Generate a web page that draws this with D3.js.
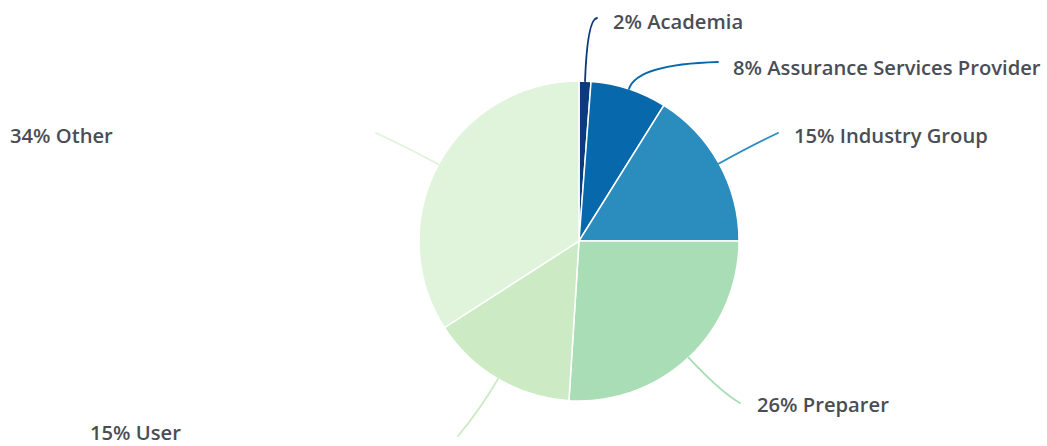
<!DOCTYPE html>
<html>
<head>
<meta charset="utf-8">
<script src="https://cdn.jsdelivr.net/npm/d3@7/dist/d3.min.js"></script>
<style>
  html, body { margin: 0; padding: 0; background: #fff; }
  svg { display: block; }
  text { font-family: "Open Sans", "Noto Sans", sans-serif; font-weight: 600; fill: #4a4d55; }
</style>
</head>
<body>
<svg id="chart" width="1047" height="446"></svg>
<script>
// ---- data ----
const categories = ["Academia", "Assurance Services Provider", "Industry Group", "Preparer", "User", "Other"];
const values = [1.2, 7.7, 16.1, 26.0, 14.9, 34.1];
const labelPct = ["2%", "8%", "15%", "26%", "15%", "34%"];
const colors = ["#0a3c7d", "#0868ac", "#2b8cbe", "#a8ddb5", "#ccebc5", "#e0f3db"];

// ---- layout ----
const W = 1047, H = 446;
const cx = 579, cy = 241, R = 160;
// per-slice leader layout: control radius, line end, text position (left x, cap-centre y)
const leaderLayout = [
  { ctrl: 222, end: [597, 18], text: [613, 22] },
  { ctrl: 186, end: [718, 62], text: [733, 68] },
  { ctrl: 198, end: [778, 133], text: [794, 136] },
  { ctrl: 208, end: [740, 403], text: [757, 405] },
  { ctrl: 196, end: [458, 436], text: [90, 433] },
  { ctrl: 196, end: [376, 133], text: [10, 136] }
];

const svg = d3.select("#chart");
const g = svg.append("g").attr("transform", `translate(${cx},${cy})`);

const pie = d3.pie().sort(null).value(d => d);
const arcs = pie(values);
const arc = d3.arc().innerRadius(0).outerRadius(R);

g.selectAll("path.slice")
  .data(arcs)
  .join("path")
  .attr("class", "slice")
  .attr("d", arc)
  .attr("fill", (d, i) => colors[i])
  .attr("stroke", "#fff")
  .attr("stroke-width", 1.5);

// leader lines and labels
arcs.forEach((d, i) => {
  const a = (d.startAngle + d.endAngle) / 2;
  const L = leaderLayout[i];
  const p0 = [cx + Math.sin(a) * R, cy - Math.cos(a) * R];
  const c = [cx + Math.sin(a) * L.ctrl, cy - Math.cos(a) * L.ctrl];
  const path = d3.path();
  path.moveTo(p0[0], p0[1]);
  path.quadraticCurveTo(c[0], c[1], L.end[0], L.end[1]);
  svg.append("path")
    .attr("d", path.toString())
    .attr("fill", "none")
    .attr("stroke", colors[i])
    .attr("stroke-width", 1.8)
    .attr("stroke-linecap", "round");
  svg.append("text")
    .attr("x", L.text[0])
    .attr("y", L.text[1])
    .attr("dy", "0.36em")
    .attr("font-size", 20.2)
    .text(labelPct[i] + " " + categories[i]);
});
</script>
</body>
</html>
